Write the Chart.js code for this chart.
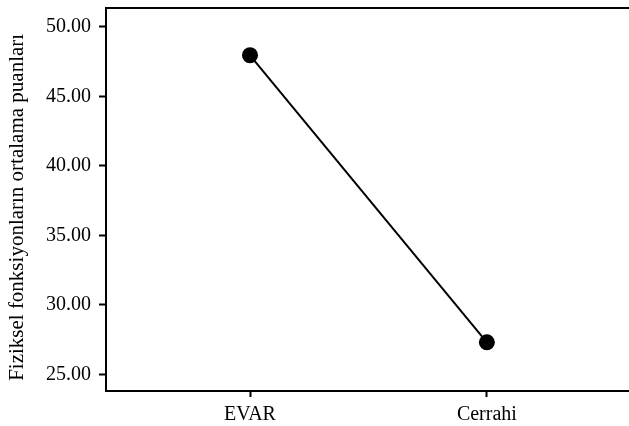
<!DOCTYPE html>
<html>
<head>
<meta charset="utf-8">
<script src="https://cdn.jsdelivr.net/npm/chart.js@4"></script>
<style>
  body { margin: 0; background: #fff; }
</style>
</head>
<body>
<canvas id="myChart" width="629" height="426"></canvas>
<script>
// data
const groups = ["EVAR", "Cerrahi"];
const meanScores = [47.95, 27.3];
const yTicks = [25, 30, 35, 40, 45, 50];
const yTitle = "Fiziksel fonksiyonların ortalama puanları";

const points = groups.map((g, i) => ({ x: i, y: meanScores[i] }));

// top frame line (the box is open on the right, cut off by the image)
const topLine = {
    id: "topLine",
    afterDraw(chart) {
        const ctx = chart.ctx;
        const area = chart.chartArea;
        ctx.save();
        ctx.strokeStyle = "#000";
        ctx.lineWidth = 2;
        ctx.beginPath();
        ctx.moveTo(area.left - 1, area.top);
        ctx.lineTo(chart.width, area.top);
        ctx.stroke();
        ctx.restore();
    }
};

const ctx = document.getElementById("myChart").getContext("2d");
const myChart = new Chart(ctx, {
    type: "line",
    data: {
        datasets: [{
            data: points,
            borderColor: "#000",
            backgroundColor: "#000",
            borderWidth: 2,
            pointRadius: 8,
            pointHoverRadius: 8,
            pointBackgroundColor: "#000",
            pointBorderWidth: 0,
            tension: 0
        }]
    },
    options: {
        responsive: false,
        animation: false,
        layout: { autoPadding: false, padding: { top: 8, right: 0, bottom: 0, left: 0 } },
        plugins: {
            legend: { display: false },
            tooltip: { enabled: false }
        },
        scales: {
            x: {
                type: "linear",
                min: -0.608,
                max: 1.6,
                afterBuildTicks: scale => { scale.ticks = groups.map((g, i) => ({ value: i })); },
                afterFit: scale => { scale.height = 35; scale.paddingLeft = 0; scale.paddingRight = 0; },
                ticks: {
                    callback: v => groups[v],
                    color: "#000",
                    font: { family: "Liberation Serif", size: 20 },
                    padding: 6,
                    maxRotation: 0
                },
                grid: {
                    drawOnChartArea: false,
                    drawTicks: true,
                    tickLength: 6,
                    tickWidth: 2,
                    tickColor: "#000"
                },
                border: { display: true, color: "#000", width: 2 }
            },
            y: {
                min: 23.8,
                max: 51.35,
                afterBuildTicks: scale => { scale.ticks = yTicks.map(v => ({ value: v })); },
                afterFit: scale => { scale.width = 106; scale.paddingTop = 0; scale.paddingBottom = 0; },
                ticks: {
                    callback: v => v.toFixed(2),
                    color: "#000",
                    font: { family: "Liberation Serif", size: 20 },
                    padding: 8
                },
                grid: {
                    drawOnChartArea: false,
                    drawTicks: true,
                    tickLength: 7,
                    tickWidth: 2,
                    tickColor: "#000"
                },
                border: { display: true, color: "#000", width: 2 },
                title: {
                    display: true,
                    // trailing nbsp nudges the title a little lower, like the original
                    text: yTitle + "\u00a0\u00a0\u00a0",
                    color: "#000",
                    font: { family: "Liberation Serif", size: 21 },
                    padding: { top: 5, bottom: 0 }
                }
            }
        }
    },
    plugins: [topLine]
});
</script>
</body>
</html>
